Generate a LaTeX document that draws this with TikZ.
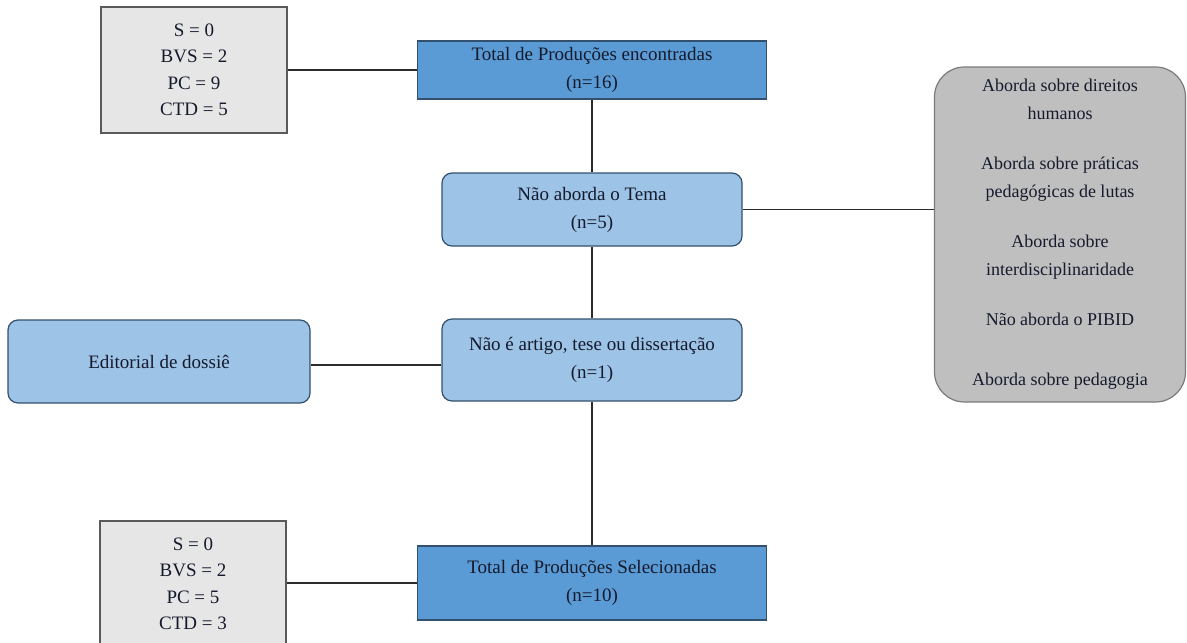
\documentclass[tikz,border=0pt]{standalone}
\usepackage{fontspec}
\setmainfont{Liberation Serif}
\definecolor{ink}{HTML}{151A2C}
\definecolor{wire}{HTML}{2B2B2B}
\definecolor{deepblue}{HTML}{5B9BD5}
\definecolor{paleblue}{HTML}{9DC3E6}
\definecolor{edgeblue}{HTML}{34506F}
\definecolor{lightgray}{HTML}{E7E6E6}
\definecolor{midgray}{HTML}{BFBFBF}
\definecolor{edgegray}{HTML}{5A5A5A}

\begin{document}
\begin{tikzpicture}[x=1pt, y=-1pt,
    txt/.style={text=ink, font=\fontsize{19}{28}\selectfont, align=center, inner sep=0pt},
    total/.style={txt, draw=edgeblue, fill=deepblue, line width=1.2pt},
    crit/.style={txt, draw=edgeblue, fill=paleblue, rounded corners=10pt, line width=1.2pt},
    base/.style={txt, draw=edgegray, fill=lightgray, line width=1.2pt,
      font=\fontsize{19}{26.5}\selectfont},
    wire/.style={draw=wire, line width=1.4pt}]
  \useasboundingbox (0,0) rectangle (1187,643);
  \clip (0,0) rectangle (1187,643);
  \fill[white] (0,0) rectangle (1187,643);
  % flow, top to bottom
  \node[total, minimum width=349pt, minimum height=58pt] (found) at (592,70)
    {Total de Produções encontradas\\(n=16)};
  \node[crit, minimum width=300pt, minimum height=73pt] (theme) at (592,209.5)
    {Não aborda o Tema\\(n=5)};
  \node[crit, minimum width=300pt, minimum height=82pt] (kind) at (592,360)
    {Não é artigo, tese ou dissertação\\(n=1)};
  \node[total, minimum width=349pt, minimum height=74pt] (chosen) at (592,583)
    {Total de Produções Selecionadas\\(n=10)};
  % side boxes
  \node[base, minimum width=186pt, minimum height=126pt] (baseA) at (194,70)
    {S = 0\\BVS = 2\\PC = 9\\CTD = 5};
  \node[base, minimum width=186pt, minimum height=126pt] (baseB) at (193,584)
    {S = 0\\BVS = 2\\PC = 5\\CTD = 3};
  \node[crit, minimum width=302pt, minimum height=83pt] (edit) at (159,361.5)
    {Editorial de dossiê};
  \node[txt, draw=edgegray!80, fill=midgray, rounded corners=30pt, line width=1.2pt,
      minimum width=251pt, minimum height=335pt, font=\fontsize{18}{28}\selectfont]
      (why) at (1060,234.5)
    {Aborda sobre direitos\\humanos\\[22pt]Aborda sobre práticas\\pedagógicas de lutas\\[22pt]%
     Aborda sobre\\interdisciplinaridade\\[22pt]Não aborda o PIBID\\[32pt]Aborda sobre pedagogia};
  % connectors
  \draw[wire] (found) -- (theme);
  \draw[wire] (theme) -- (kind);
  \draw[wire] (kind) -- (chosen);
  \draw[wire] (baseA) -- (found);
  \draw[wire] (baseB.east |- chosen.west) -- (chosen.west);
  \draw[wire] (theme.east) -- (theme.east -| why.west);
  \draw[wire] ([yshift=-5pt]kind.west) -- ([yshift=-5pt]kind.west -| edit.east);
\end{tikzpicture}
\end{document}
